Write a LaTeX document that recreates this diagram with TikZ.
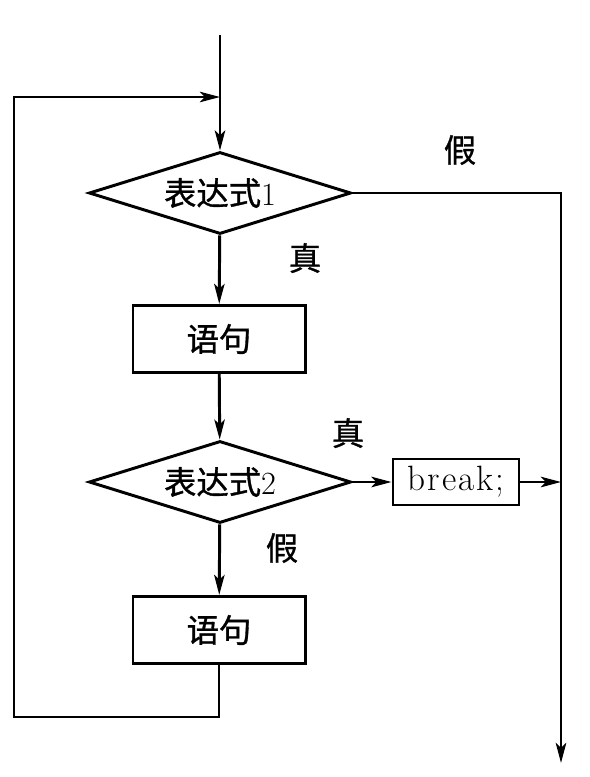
\documentclass[tikz,border=0pt]{standalone}
\usepackage{fontspec}
\usepackage{tikz}
\usetikzlibrary{shapes.geometric,arrows.meta}
\newfontfamily\cjk[FakeBold=1]{Noto Sans CJK SC}
\newfontfamily\brkfont[LetterSpace=6]{Latin Modern Roman}

\tikzset{
  flow/.style={line width=2.1pt},
  arr/.style={flow,-{Stealth[length=5mm,width=2.6mm,inset=1.2mm]}},
  cond/.style={diamond,draw,line width=2.1pt,inner sep=0pt,aspect=3.2,
    minimum width=6.55cm,minimum height=2.05cm,font=\fontsize{23}{26}\selectfont},
  stmt/.style={rectangle,draw,line width=2.1pt,inner sep=0pt,
    minimum width=4.3cm,minimum height=1.68cm,font=\fontsize{23}{26}\selectfont\cjk},
  brkbox/.style={rectangle,draw,line width=2.1pt,inner sep=0pt,
    minimum width=3.15cm,minimum height=1.15cm,
    font=\fontsize{25}{28}\selectfont\brkfont},
  lbl/.style={font=\fontsize{23}{26}\selectfont\cjk}
}

\begin{document}
\begin{tikzpicture}[x=0.025cm,y=-0.025cm]
        \useasboundingbox (0,0) rectangle (590,777);

        \coordinate (start) at (220,35);
        \coordinate (join) at (220,97);
        \node[cond] (c1) at (220,193) {{\cjk 表达式}1};
        \node[stmt] (s1) at (219,339) {语句};
        \node[cond] (c2) at (220,482) {{\cjk 表达式}2};
        \node[brkbox] (brk) at (456,482) {break;};
        \node[stmt] (s2) at (219,630) {语句};
        \coordinate (lb) at (14,717);
        \coordinate (out) at (561,763);

        \node[lbl] (f1) at (460,150) {假};
        \node[lbl] (t1) at (305,258) {真};
        \node[lbl] (t2) at (348,433) {真};
        \node[lbl] (f2) at (282,548) {假};

        
        \draw [arr] (start) -- (c1);
        \draw [arr] (c1) -- (s1);
        \draw [arr] (s1) -- (c2);
        \draw [arr] (c2) -- (s2);
        \draw [arr] (c2) -- (brk);
        \draw [arr] (brk.east) -- (brk.east -| out);
        \draw [arr] (c1.east) -| (out);

        % loop back
        \draw [arr] (s2.south) |- (lb) |- (join);

    \end{tikzpicture}
\end{document}
